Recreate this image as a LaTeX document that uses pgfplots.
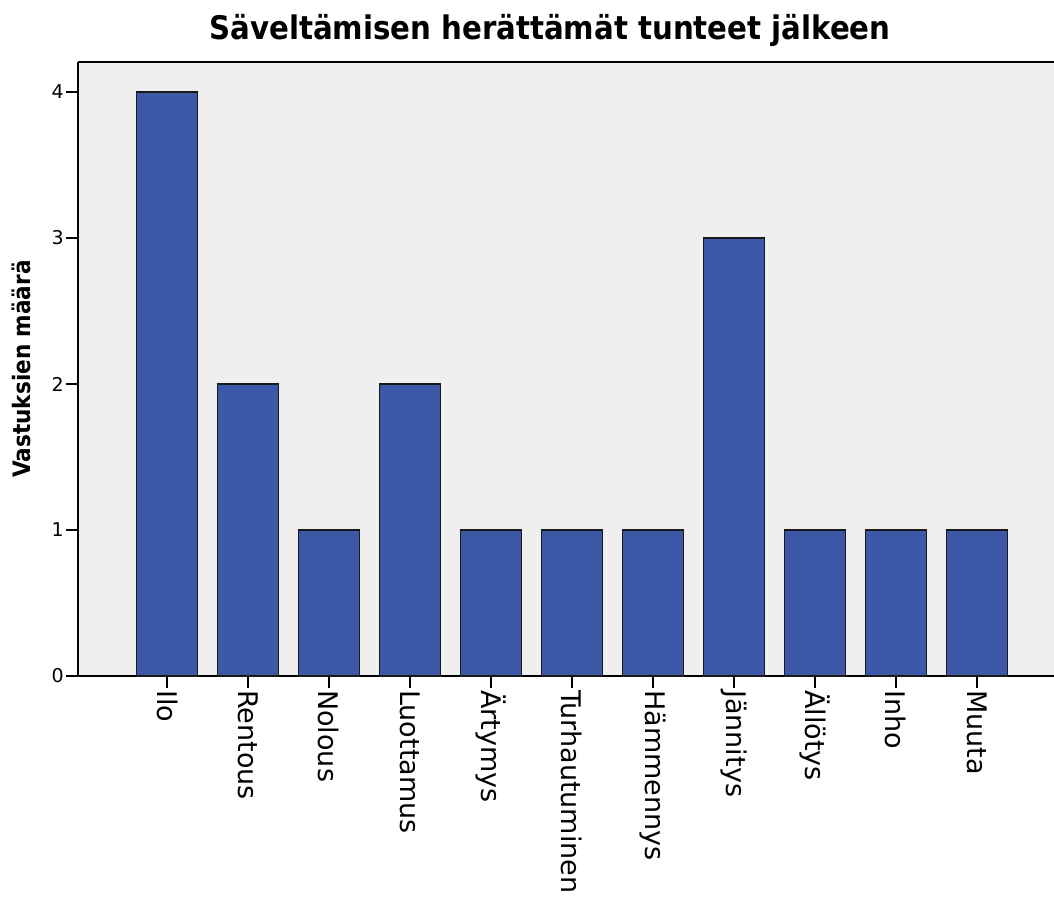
\documentclass[border=0pt]{standalone}
\usepackage{fontspec}
\setmainfont{DejaVu Sans}
\newfontfamily\condbold{DejaVu Sans Condensed}[BoldFont={DejaVu Sans Condensed Bold}]
\usepackage{pgfplots}
\pgfplotsset{compat=1.18}

\definecolor{barblue}{RGB}{62,88,168}
\definecolor{panelgray}{RGB}{239,239,239}
\definecolor{edgegray}{RGB}{25,25,25}

\begin{document}
\begin{tikzpicture}
\begin{axis}[
  name=ax,
  scale only axis,
  width=988pt, height=614pt,
  xmin=-1.1, xmax=11.1,
  ymin=0, ymax=4.205,
  axis background/.style={fill=panelgray},
  axis x line*=bottom,
  axis y line*=left,
  axis line style={line width=1.4pt, black, -},
  xtick={0,1,2,3,4,5,6,7,8,9,10},
  xticklabels={Ilo,Rentous,Nolous,Luottamus,Ärtymys,Turhautuminen,Hämmennys,Jännitys,Ällötys,Inho,Muuta},
  ytick={0,1,2,3,4},
  tick align=outside,
  major tick length=12pt,
  tick style={line width=1.3pt, black},
  x tick label style={rotate=-90, anchor=west, font=\fontsize{27}{31}\selectfont, inner sep=2pt},
  y tick label style={font=\fontsize{19}{22}\selectfont, inner sep=2pt},
  /pgf/number format/assume math mode=true,
  ylabel={Vastuksien määrä},
  ylabel style={font=\condbold\bfseries\fontsize{24}{28}\selectfont, at={(axis description cs:-0.057,0.5)}, anchor=center},
  title={Säveltämisen herättämät tunteet jälkeen},
  title style={font=\condbold\bfseries\fontsize{32.5}{36}\selectfont, at={(axis description cs:0.5,1)}, anchor=base, yshift=16pt, xshift=-22pt},
  clip=false,
]
  \draw[line width=1.4pt, black] (rel axis cs:0,1) -- (rel axis cs:1,1);
  \addplot[ybar, bar width=61pt, fill=barblue, draw=edgegray, line width=1.8pt]
    coordinates {(0,4) (1,2) (2,1) (3,2) (4,1) (5,1) (6,1) (7,3) (8,1) (9,1) (10,1)};
\end{axis}
\pgfresetboundingbox
\path[use as bounding box] ([xshift=-78pt,yshift=-223pt]ax.south west) rectangle ([xshift=976pt,yshift=62pt]ax.north west);
\end{tikzpicture}
\end{document}
